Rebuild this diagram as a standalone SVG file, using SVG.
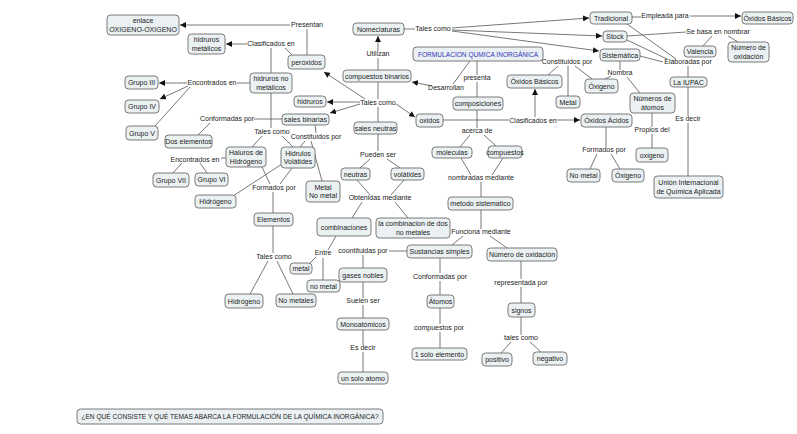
<svg xmlns="http://www.w3.org/2000/svg" width="797" height="434" viewBox="0 0 797 434">
<defs>
<style>
.n rect{fill:#ebf1f3;stroke:#6b6b6b;stroke-width:0.9}
text{font-family:"Liberation Sans",Arial,sans-serif;font-size:7px;fill:#222;text-anchor:middle}
.c path{fill:none;stroke:#555;stroke-width:0.8}
.blue{fill:#3333bb}
.q{font-size:6.6px}
</style>
<marker id="a" viewBox="0 0 6 6" refX="6" refY="3" markerWidth="6" markerHeight="6" markerUnits="userSpaceOnUse" orient="auto"><path d="M0,0 L6,3 L0,6 z" fill="#111"/></marker>
</defs>
<rect width="797" height="434" fill="#fff"/>
<g class="c">
<path d="M307,55 L307,29"/>
<path d="M290,25 L180,25" marker-end="url(#a)"/>
<path d="M247,44 L226,44" marker-end="url(#a)"/>
<path d="M285,48 L292,55"/>
<path d="M271,48 L271,73"/>
<path d="M250,83 L237,83"/>
<path d="M187,83 L159,83" marker-end="url(#a)"/>
<path d="M188,86 L160,99" marker-end="url(#a)"/>
<path d="M190,87 L155,126"/>
<path d="M271,93 L271,128"/>
<path d="M262,136 L252,147"/>
<path d="M282,136 L293,147"/>
<path d="M282,119 L254,119"/>
<path d="M210,123 L198,135"/>
<path d="M315,125 L316,133"/>
<path d="M305,141 L300,147"/>
<path d="M311,141 L322,181"/>
<path d="M262,167 L270,184"/>
<path d="M292,168 L280,184"/>
<path d="M282,164 L233,196"/>
<path d="M273,192 L273,213"/>
<path d="M273,226 L273,253"/>
<path d="M268,261 L250,294"/>
<path d="M277,261 L293,294"/>
<path d="M226,158 L221,158"/>
<path d="M182,163 L173,173"/>
<path d="M200,163 L207,173"/>
<path d="M378,51 L378,36" marker-end="url(#a)"/>
<path d="M378,70 L378,58"/>
<path d="M378,82 L378,99"/>
<path d="M378,107 L378,122"/>
<path d="M360,102 L327,102" marker-end="url(#a)"/>
<path d="M360,104 L330,113" marker-end="url(#a)"/>
<path d="M365,99 L324,72" marker-end="url(#a)"/>
<path d="M396,104 L415,117" marker-end="url(#a)"/>
<path d="M432,86 L412,82" marker-end="url(#a)"/>
<path d="M470,61 L453,84"/>
<path d="M477,61 L477,75"/>
<path d="M477,82 L477,97"/>
<path d="M477,110 L477,128"/>
<path d="M470,135 L460,147"/>
<path d="M484,135 L496,146"/>
<path d="M461,158 L471,175"/>
<path d="M503,158 L492,175"/>
<path d="M481,182 L481,197"/>
<path d="M481,210 L481,229"/>
<path d="M463,236 L452,245"/>
<path d="M490,236 L507,248"/>
<path d="M521,261 L521,279"/>
<path d="M521,287 L521,303"/>
<path d="M521,317 L521,335"/>
<path d="M511,342 L501,353"/>
<path d="M530,342 L541,352"/>
<path d="M440,258 L440,273"/>
<path d="M440,281 L440,295"/>
<path d="M440,308 L440,324"/>
<path d="M440,332 L440,348"/>
<path d="M378,134 L378,151"/>
<path d="M370,159 L360,168"/>
<path d="M387,159 L400,168"/>
<path d="M357,180 L370,195"/>
<path d="M404,180 L391,195"/>
<path d="M362,202 L352,218"/>
<path d="M395,202 L408,218"/>
<path d="M336,236 L328,250"/>
<path d="M316,257 L310,263"/>
<path d="M323,258 L323,280"/>
<path d="M389,251 L407,251"/>
<path d="M363,255 L363,268"/>
<path d="M363,282 L363,298"/>
<path d="M363,305 L363,318"/>
<path d="M363,330 L363,345"/>
<path d="M363,352 L363,372"/>
<path d="M443,120 L509,120"/>
<path d="M557,120 L580,120" marker-end="url(#a)"/>
<path d="M535,117 L535,89" marker-end="url(#a)"/>
<path d="M558,66 L548,75"/>
<path d="M568,66 L568,96"/>
<path d="M575,66 L592,79"/>
<path d="M404,29 L415,29"/>
<path d="M452,28 L589,18" marker-end="url(#a)"/>
<path d="M452,30 L602,36" marker-end="url(#a)"/>
<path d="M452,31 L599,51" marker-end="url(#a)"/>
<path d="M632,17 L641,17"/>
<path d="M690,16 L741,16" marker-end="url(#a)"/>
<path d="M627,24 L676,59"/>
<path d="M627,40 L667,59"/>
<path d="M640,56 L663,62"/>
<path d="M627,36 L686,32"/>
<path d="M712,36 L703,46"/>
<path d="M728,36 L738,42"/>
<path d="M688,66 L688,77"/>
<path d="M688,87 L688,116"/>
<path d="M688,123 L688,176"/>
<path d="M620,61 L620,70"/>
<path d="M611,76 L603,80"/>
<path d="M627,77 L640,93"/>
<path d="M652,113 L652,127"/>
<path d="M652,134 L652,148"/>
<path d="M606,127 L606,147"/>
<path d="M597,154 L590,169"/>
<path d="M611,154 L620,169"/>
</g>
<g id="labels">
<text x="307" y="27">Presentan</text>
<text x="271" y="46">Clasificados en</text>
<text x="212" y="85">Encontrados en</text>
<text x="227" y="121">Conformadas por</text>
<text x="378" y="105">Tales como</text>
<text x="378" y="56">Utilizan</text>
<text x="433" y="31">Tales como</text>
<text x="446" y="90">Desarrollan</text>
<text x="477" y="80">presenta</text>
<text x="567" y="64">Constituidos por</text>
<text x="533" y="123">Clasificados en</text>
<text x="477" y="133">acerca de</text>
<text x="665" y="18">Empleada para</text>
<text x="718" y="34">Se basa en nombrar</text>
<text x="688" y="64">Elaboradas por</text>
<text x="620" y="75">Nombra</text>
<text x="688" y="121">Es decir</text>
<text x="652" y="132">Propios del</text>
<text x="604" y="152">Formados por</text>
<text x="481" y="180">nombradas mediante</text>
<text x="481" y="234">Funciona mediante</text>
<text x="440" y="279">Conformadas por</text>
<text x="439" y="330">compuestos por</text>
<text x="521" y="285">representada por</text>
<text x="521" y="340">tales como</text>
<text x="378" y="157">Pueden ser</text>
<text x="380" y="200">Obtenidas mediante</text>
<text x="323" y="255">Entre</text>
<text x="363" y="253">coontituidas por</text>
<text x="363" y="303">Suelen ser</text>
<text x="363" y="350">Es decir</text>
<text x="274" y="190">Formados por</text>
<text x="274" y="259">Tales como</text>
<text x="272" y="134">Tales como</text>
<text x="316" y="139">Constituidos por</text>
<text x="195" y="162">Encontrados en</text>
</g>
<g id="enlace" class="n"><rect x="107" y="15" width="72" height="20" rx="3.5"/><text x="143" y="23">enlace</text><text x="143" y="31.5">OXIGENO-OXIGENO</text></g>
<g id="hidmet" class="n"><rect x="188" y="34" width="37" height="20" rx="3.5"/><text x="206.5" y="42">hidruros</text><text x="206.5" y="50.5">metálicos</text></g>
<g id="perox" class="n"><rect x="288" y="55" width="37" height="14" rx="3.5"/><text x="306.5" y="64.5">peróxidos</text></g>
<g id="hidnomet" class="n"><rect x="250" y="73" width="42" height="20" rx="3.5"/><text x="271" y="81">hidruros no</text><text x="271" y="89.5">metálicos</text></g>
<g id="g3" class="n"><rect x="125" y="76" width="33" height="13" rx="3.5"/><text x="141.5" y="85">Grupo III</text></g>
<g id="g4" class="n"><rect x="125" y="100" width="34" height="13" rx="3.5"/><text x="142" y="109">Grupo IV</text></g>
<g id="g5" class="n"><rect x="126" y="126" width="32" height="14" rx="3.5"/><text x="142" y="135.5">Grupo V</text></g>
<g id="dosel" class="n"><rect x="165" y="135" width="47" height="13" rx="3.5"/><text x="188.5" y="144">Dos elementos</text></g>
<g id="hidruros" class="n"><rect x="294" y="96" width="32" height="11" rx="3.5"/><text x="310" y="104">hidruros</text></g>
<g id="salesbin" class="n"><rect x="282" y="114" width="47" height="11" rx="3.5"/><text x="305.5" y="122">sales binarias</text></g>
<g id="compbin" class="n"><rect x="343" y="70" width="68" height="12" rx="3.5"/><text x="377" y="78.5">compuestos binarios</text></g>
<g id="nomecl" class="n"><rect x="353" y="23" width="51" height="12" rx="3.5"/><text x="378.5" y="31.5">Nomeclaturas</text></g>
<g id="salesneu" class="n"><rect x="354" y="122" width="43" height="12" rx="3.5"/><text x="375.5" y="130.5">sales neutras</text></g>
<g id="formul" class="n"><rect x="413" y="47" width="130" height="14" rx="3.5"/><text class="blue" x="478" y="56.5" style="font-size:6.6px">FORMULACION QUMICA INORGÁNICA</text></g>
<g id="comp" class="n"><rect x="453" y="97" width="50" height="13" rx="3.5"/><text x="478" y="106">composiciones</text></g>
<g id="oxbasm" class="n"><rect x="507" y="75" width="55" height="13" rx="3.5"/><text x="534.5" y="84">Óxidos Básicos</text></g>
<g id="metalm" class="n"><rect x="556" y="96" width="24" height="12" rx="3.5"/><text x="568" y="104.5">Metal</text></g>
<g id="oxig1" class="n"><rect x="585" y="79" width="33" height="14" rx="3.5"/><text x="601.5" y="88.5">Óxigeno</text></g>
<g id="oxidos" class="n"><rect x="416" y="114" width="27" height="13" rx="3.5"/><text x="429.5" y="123">oxidos</text></g>
<g id="oxac" class="n"><rect x="581" y="114" width="51" height="13" rx="3.5"/><text x="606.5" y="123">Óxidos Ácidos</text></g>
<g id="trad" class="n"><rect x="590" y="12" width="42" height="12" rx="3.5"/><text x="611" y="20.5">Tradicional</text></g>
<g id="oxbasr" class="n"><rect x="742" y="12" width="51" height="12" rx="3.5"/><text x="767.5" y="20.5">Óxidos Básicos</text></g>
<g id="stock" class="n"><rect x="603" y="31" width="24" height="11" rx="3.5"/><text x="615" y="39">Stock</text></g>
<g id="valencia" class="n"><rect x="684" y="46" width="32" height="11" rx="3.5"/><text x="700" y="54">Valencia</text></g>
<g id="numoxr" class="n"><rect x="728" y="42" width="41" height="20" rx="3.5"/><text x="748.5" y="50">Número de</text><text x="748.5" y="58.5">oxidación</text></g>
<g id="sist" class="n"><rect x="600" y="49" width="40" height="12" rx="3.5"/><text x="620" y="57.5">Sistemática</text></g>
<g id="iupac" class="n"><rect x="670" y="77" width="37" height="10" rx="3.5"/><text x="688.5" y="84.5">La IUPAC</text></g>
<g id="numat" class="n"><rect x="630" y="93" width="45" height="20" rx="3.5"/><text x="652.5" y="101">Números de</text><text x="652.5" y="109.5">átomos</text></g>
<g id="oxigeno" class="n"><rect x="636" y="148" width="32" height="14" rx="3.5"/><text x="652" y="157.5">oxigeno</text></g>
<g id="union" class="n"><rect x="654" y="176" width="69" height="22" rx="3.5"/><text x="688.5" y="185">Unión Internacional</text><text x="688.5" y="194">de Química Aplicada</text></g>
<g id="nometalr" class="n"><rect x="567" y="169" width="33" height="13" rx="3.5"/><text x="583.5" y="178">No metal</text></g>
<g id="oxig2" class="n"><rect x="612" y="169" width="32" height="13" rx="3.5"/><text x="628" y="178">Óxigeno</text></g>
<g id="molec" class="n"><rect x="432" y="147" width="40" height="11" rx="3.5"/><text x="452" y="155">moleculas</text></g>
<g id="compuestos" class="n"><rect x="488" y="146" width="34" height="12" rx="3.5"/><text x="505" y="154.5">compuestos</text></g>
<g id="metodo" class="n"><rect x="448" y="197" width="65" height="13" rx="3.5"/><text x="480.5" y="206">metodo sistematico</text></g>
<g id="lacomb" class="n"><rect x="376" y="218" width="74" height="20" rx="3.5"/><text x="413" y="226">la combinacion de dos</text><text x="413" y="234.5">no metales</text></g>
<g id="sustsimp" class="n"><rect x="407" y="245" width="65" height="13" rx="3.5"/><text x="439.5" y="254">Sustancias simples</text></g>
<g id="numoxm" class="n"><rect x="487" y="248" width="70" height="13" rx="3.5"/><text x="522" y="257">Número de oxidación</text></g>
<g id="atomos" class="n"><rect x="427" y="295" width="27" height="13" rx="3.5"/><text x="440.5" y="304">Átomos</text></g>
<g id="unsolo" class="n"><rect x="412" y="348" width="55" height="12" rx="3.5"/><text x="439.5" y="356.5">1 solo elemento</text></g>
<g id="signos" class="n"><rect x="508" y="303" width="27" height="14" rx="3.5"/><text x="521.5" y="312.5">signos</text></g>
<g id="positivo" class="n"><rect x="482" y="353" width="30" height="13" rx="3.5"/><text x="497" y="362">positivo</text></g>
<g id="negativo" class="n"><rect x="533" y="352" width="34" height="13" rx="3.5"/><text x="550" y="361">negativo</text></g>
<g id="neutras" class="n"><rect x="341" y="168" width="29" height="12" rx="3.5"/><text x="355.5" y="176.5">neutras</text></g>
<g id="volatides" class="n"><rect x="391" y="168" width="33" height="12" rx="3.5"/><text x="407.5" y="176.5">volátides</text></g>
<g id="combin" class="n"><rect x="317" y="218" width="54" height="18" rx="3.5"/><text x="344" y="229.5">combinaciones</text></g>
<g id="metall" class="n"><rect x="290" y="263" width="22" height="11" rx="3.5"/><text x="301" y="271">metal</text></g>
<g id="nometall" class="n"><rect x="307" y="280" width="33" height="12" rx="3.5"/><text x="323.5" y="288.5">no metal</text></g>
<g id="gases" class="n"><rect x="339" y="268" width="48" height="14" rx="3.5"/><text x="363" y="277.5">gases nobles</text></g>
<g id="mono" class="n"><rect x="337" y="318" width="52" height="12" rx="3.5"/><text x="363" y="326.5">Monoatómicos</text></g>
<g id="unatomo" class="n"><rect x="338" y="372" width="50" height="12" rx="3.5"/><text x="363" y="380.5">un solo atomo</text></g>
<g id="haluros" class="n"><rect x="226" y="147" width="40" height="20" rx="3.5"/><text x="246" y="155">Haluros de</text><text x="246" y="163.5">Hidrógeno</text></g>
<g id="hidrulos" class="n"><rect x="281" y="147" width="34" height="21" rx="3.5"/><text x="298" y="155.5">Hidrulos</text><text x="298" y="164">Volátides</text></g>
<g id="metalnometal" class="n"><rect x="306" y="181" width="34" height="21" rx="3.5"/><text x="323" y="189.5">Metal</text><text x="323" y="198">No metal</text></g>
<g id="hidrog1" class="n"><rect x="195" y="195" width="41" height="13" rx="3.5"/><text x="215.5" y="204">Hidrógeno</text></g>
<g id="elementos" class="n"><rect x="254" y="213" width="39" height="13" rx="3.5"/><text x="273.5" y="222">Elementos</text></g>
<g id="hidrog2" class="n"><rect x="225" y="294" width="38" height="14" rx="3.5"/><text x="244" y="303.5">Hidrógeno</text></g>
<g id="nometales" class="n"><rect x="276" y="294" width="40" height="13" rx="3.5"/><text x="296" y="303">No metales</text></g>
<g id="g7" class="n"><rect x="153" y="173" width="36" height="14" rx="3.5"/><text x="171" y="182.5">Grupo VII</text></g>
<g id="g6" class="n"><rect x="195" y="173" width="33" height="13" rx="3.5"/><text x="211.5" y="182">Grupo VI</text></g>
<g id="question" class="n"><rect x="77" y="409" width="306" height="15" rx="3.5"/><text class="q" x="230" y="419">¿EN QUÉ CONSISTE Y QUÉ TEMAS ABARCA LA FORMULACIÓN DE LA QUÍMICA INORGÁNICA?</text></g>
</svg>
